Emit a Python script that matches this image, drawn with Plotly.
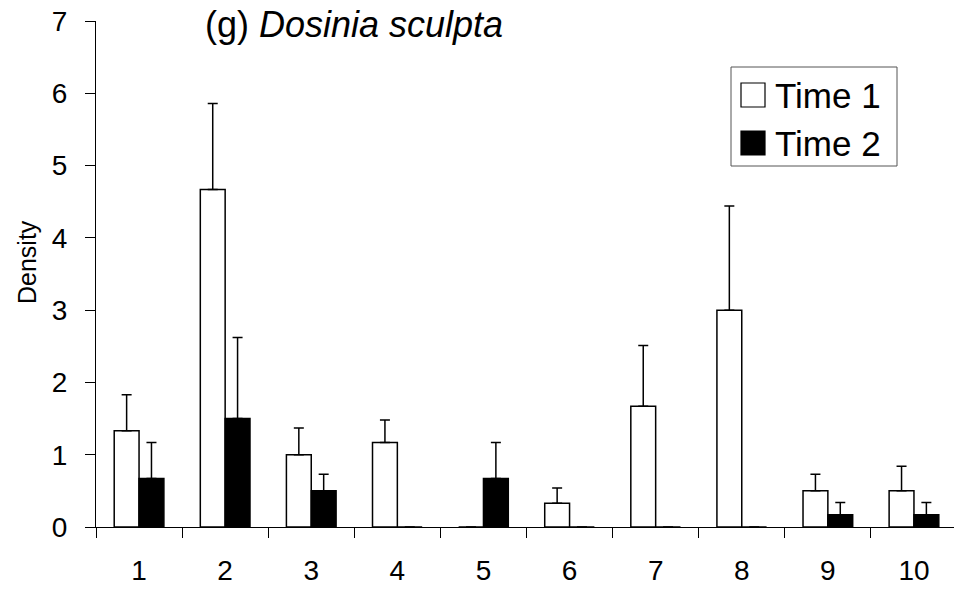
import plotly.graph_objects as go

categories = ["1", "2", "3", "4", "5", "6", "7", "8", "9", "10"]
time1 = [1.33, 4.67, 1.0, 1.17, 0.0, 0.33, 1.67, 3.0, 0.5, 0.5]
time1_err = [0.5, 1.19, 0.37, 0.31, 0.0, 0.21, 0.84, 1.44, 0.23, 0.34]
time2 = [0.67, 1.5, 0.5, 0.0, 0.67, 0.0, 0.0, 0.0, 0.17, 0.17]
time2_err = [0.5, 1.12, 0.23, 0.0, 0.5, 0.0, 0.0, 0.0, 0.17, 0.17]
series_names = ["Time 1", "Time 2"]
title_plain = "(g) "
title_italic = "Dosinia sculpta"
y_title = "Density"

W, H = 954, 591
L, T, B = 96, 21, 64
PW, PH = W - L, H - T - B

def px(x):
    return (x - L) / PW

def py(y):
    return (H - B - y) / PH

FONT = "Liberation Sans, Arial, sans-serif"

fig = go.Figure()
fig.add_trace(go.Bar(
    x=categories, y=time1, name=series_names[0],
    marker=dict(color="white", line=dict(color="black", width=1.5)),
    error_y=dict(type="data", symmetric=False, array=time1_err,
                 arrayminus=[0] * len(time1), color="black", thickness=1.5, width=5),
    showlegend=False,
))
fig.add_trace(go.Bar(
    x=categories, y=time2, name=series_names[1],
    marker=dict(color="black", line=dict(color="black", width=1.5)),
    error_y=dict(type="data", symmetric=False, array=time2_err,
                 arrayminus=[0] * len(time2), color="black", thickness=1.5, width=5),
    showlegend=False,
))

shapes = [
    dict(type="rect", xref="paper", yref="paper", x0=px(731), x1=px(897), y0=py(67), y1=py(166),
         line=dict(color="#555555", width=1), fillcolor="white", layer="above"),
    dict(type="rect", xref="paper", yref="paper", x0=px(741), x1=px(765), y0=py(83), y1=py(107),
         line=dict(color="black", width=1.2), fillcolor="white", layer="above"),
    dict(type="rect", xref="paper", yref="paper", x0=px(741), x1=px(765), y0=py(131), y1=py(155),
         line=dict(color="black", width=1.2), fillcolor="black", layer="above"),
]
annotations = [
    dict(text=series_names[0], xref="paper", yref="paper", x=px(773), y=py(95),
         xanchor="left", yanchor="middle", showarrow=False,
         font=dict(family=FONT, size=35, color="black")),
    dict(text=series_names[1], xref="paper", yref="paper", x=px(773), y=py(143),
         xanchor="left", yanchor="middle", showarrow=False,
         font=dict(family=FONT, size=35, color="black")),
    dict(text=title_plain + "<i>" + title_italic + "</i>", xref="paper", yref="paper",
         x=px(203), y=py(25), xanchor="left", yanchor="middle", showarrow=False,
         font=dict(family=FONT, size=36, color="black")),
    dict(text=y_title, xref="paper", yref="paper", x=px(27), y=py(262),
         xanchor="center", yanchor="middle", showarrow=False, textangle=-90,
         font=dict(family=FONT, size=25, color="black")),
]

fig.update_layout(
    width=W, height=H,
    margin=dict(l=L, r=0, t=T, b=B, pad=0),
    paper_bgcolor="white", plot_bgcolor="white",
    barmode="group", bargap=0.423, bargroupgap=0,
    font=dict(family=FONT, color="black"),
    shapes=shapes, annotations=annotations,
    showlegend=False,
    xaxis=dict(
        type="category", categoryorder="array", categoryarray=categories,
        range=[-0.5, 9.465], tickson="boundaries", ticks="outside", ticklen=10,
        tickcolor="black", tickwidth=1, showline=True, linecolor="black", linewidth=1,
        showgrid=False, zeroline=False, tickfont=dict(family=FONT, size=28),
        ticklabelstandoff=18,
    ),
    yaxis=dict(
        range=[0, 7], tickvals=[0, 1, 2, 3, 4, 5, 6, 7], ticks="outside", ticklen=10,
        tickcolor="black", tickwidth=1, showline=True, linecolor="black", linewidth=1,
        showgrid=False, zeroline=False, tickfont=dict(family=FONT, size=28),
        ticklabelstandoff=12,
    ),
)

fig.write_html("out.html")
